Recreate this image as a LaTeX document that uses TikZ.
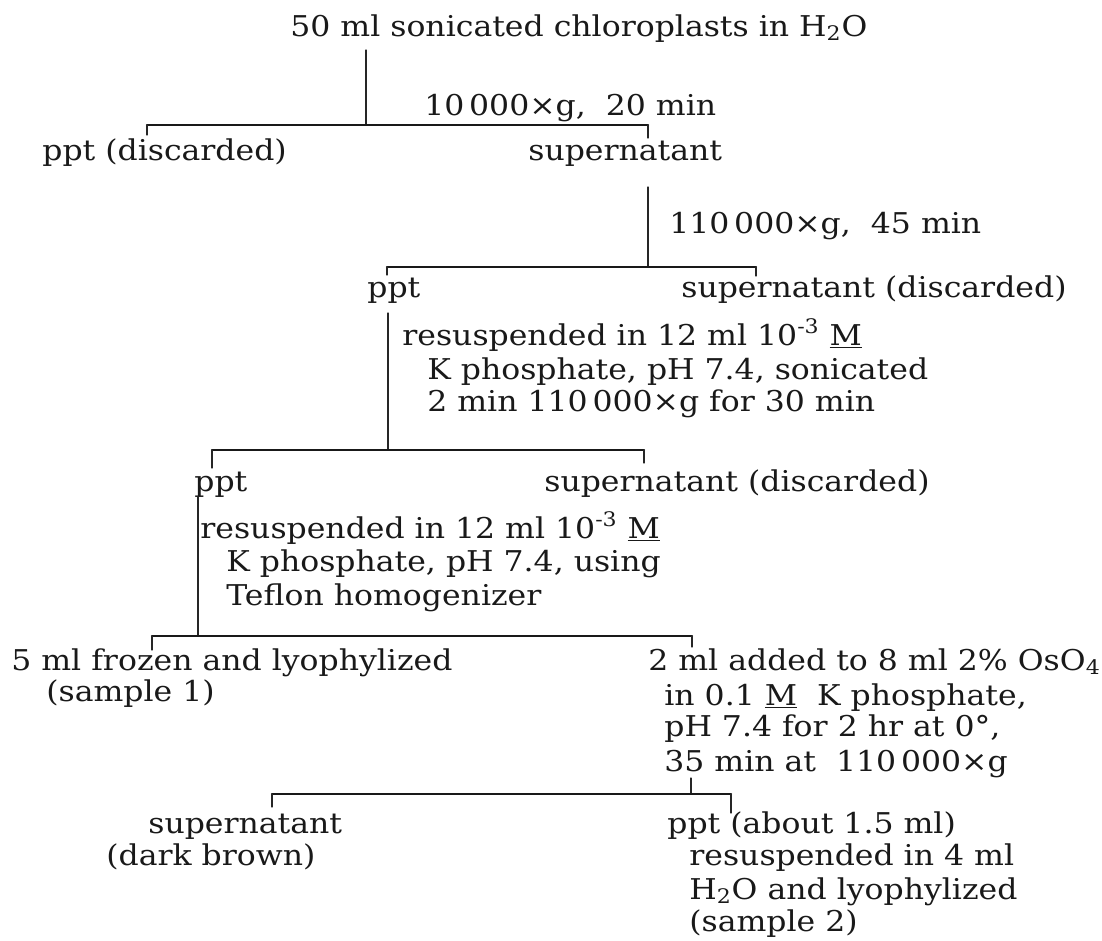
\documentclass[tikz,border=0pt]{standalone}
\usepackage{fontspec}
\setmainfont[FakeStretch=1.1]{DejaVu Serif}

\begin{document}
\begin{tikzpicture}[
  x=0.02cm,
  y=-0.02cm,
  line cap=round,
  line join=round,
  font=\fontsize{16.3}{19}\selectfont,
  txt/.style={
    anchor=base west,
    inner sep=0pt,
    text=black!90
  },
  stem/.style={draw=black!85,line width=0.6pt},
  bar/.style={draw=black!90,line width=1.3pt},
  tick/.style={draw=black!85,line width=0.6pt}
]
\useasboundingbox (0,0) rectangle (1102,940);

% Starting material and first spin.
\node[txt] (top) at (290,36) {50 ml sonicated chloroplasts in H\textsubscript{2}O};
\node[txt] (g1) at (424,115) {10\,000×g,\ \ 20 min};
\node[txt] (ppt1) at (42,160) {ppt (discarded)};
\node[txt] (sup1) at (528,160) {supernatant};

\coordinate (s1a) at (366,50);
\coordinate (s1b) at (366,125);
\coordinate (b1w) at (147,125);
\coordinate (b1e) at (648,125);
\coordinate (t1w) at (147,135);
\coordinate (t1e) at (648,138);

\draw[stem] (s1a) -- (s1b);
\draw[bar]  (b1w) -- (b1e);
\draw[tick] (b1w) -- (t1w);
\draw[tick] (b1e) -- (t1e);

% Second spin of the supernatant.
\node[txt] (g2) at (669,233) {110\,000×g,\ \ 45 min};
\node[txt] (ppt2) at (367,297) {ppt};
\node[txt] (sup2) at (681,297) {supernatant (discarded)};

\coordinate (s2a) at (648,187);
\coordinate (s2b) at (648,267);
\coordinate (b2w) at (387,267);
\coordinate (b2e) at (756,267);
\coordinate (t2w) at (387,275);
\coordinate (t2e) at (756,276);

\draw[stem] (s2a) -- (s2b);
\draw[bar]  (b2w) -- (b2e);
\draw[tick] (b2w) -- (t2w);
\draw[tick] (b2e) -- (t2e);

% Pellet resuspended, sonicated and spun again.
\node[txt] (rs2a) at (402,345) {resuspended in 12 ml 10\textsuperscript{-3} \underline{M}};
\node[txt] (rs2b) at (427,379) {K phosphate, pH 7.4, sonicated};
\node[txt] (rs2c) at (427,411) {2 min 110\,000×g for 30 min};
\node[txt] (ppt3) at (194,491) {ppt};
\node[txt] (sup3) at (544,491) {supernatant (discarded)};

\coordinate (s3a) at (388,313);
\coordinate (s3b) at (388,450);
\coordinate (b3w) at (212,450);
\coordinate (b3e) at (644,450);
\coordinate (t3w) at (212,468);
\coordinate (t3e) at (644,463);

\draw[stem] (s3a) -- (s3b);
\draw[bar]  (b3w) -- (b3e);
\draw[tick] (b3w) -- (t3w);
\draw[tick] (b3e) -- (t3e);

% Homogenized pellet split in two.
\node[txt] (rs3a) at (200,538) {resuspended in 12 ml 10\textsuperscript{-3} \underline{M}};
\node[txt] (rs3b) at (226,571) {K phosphate, pH 7.4, using};
\node[txt] (rs3c) at (226,605) {Teflon homogenizer};
\node[txt] (frz1) at (11,670) {5 ml frozen and lyophylized};
\node[txt] (frz2) at (46,701) {(sample 1)};
\node[txt] (os1) at (648,670) {2 ml added to 8 ml 2\% OsO\textsubscript{4}};
\node[txt] (os2) at (664,705) {in 0.1 \underline{M}\ \ K phosphate,};
\node[txt] (os3) at (664,736) {pH 7.4 for 2 hr at 0°,};
\node[txt] (os4) at (664,771) {35 min at\ \ 110\,000×g};

\coordinate (s4a) at (198,497);
\coordinate (s4b) at (198,636);
\coordinate (b4w) at (152,636);
\coordinate (b4e) at (692,636);
\coordinate (t4w) at (152,650);
\coordinate (t4e) at (692,647);

\draw[stem] (s4a) -- (s4b);
\draw[bar]  (b4w) -- (b4e);
\draw[tick] (b4w) -- (t4w);
\draw[tick] (b4e) -- (t4e);

% Osmium-fixed fraction.
\node[txt] (sp5a) at (148,833) {supernatant};
\node[txt] (sp5b) at (106,865) {(dark brown)};
\node[txt] (pp5a) at (667,833) {ppt (about 1.5 ml)};
\node[txt] (pp5b) at (689,865) {resuspended in 4 ml};
\node[txt] (pp5c) at (689,899) {H\textsubscript{2}O and lyophylized};
\node[txt] (pp5d) at (689,931) {(sample 2)};

\coordinate (s5a) at (691,778);
\coordinate (s5b) at (691,794);
\coordinate (b5w) at (272,794);
\coordinate (b5e) at (731,794);
\coordinate (t5w) at (272,807);
\coordinate (t5e) at (731,813);

\draw[stem] (s5a) -- (s5b);
\draw[bar]  (b5w) -- (b5e);
\draw[tick] (b5w) -- (t5w);
\draw[tick] (b5e) -- (t5e);

\end{tikzpicture}
\end{document}
